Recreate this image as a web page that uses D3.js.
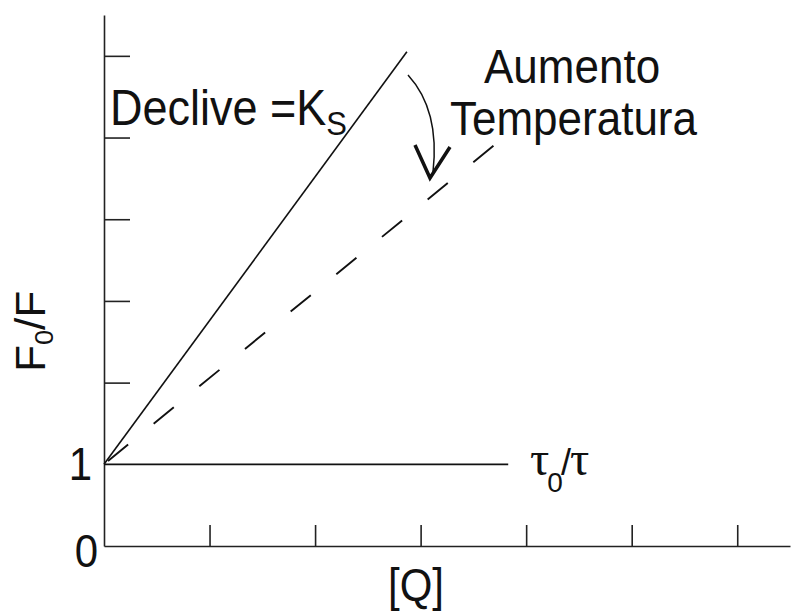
<!DOCTYPE html>
<html>
<head>
<meta charset="utf-8">
<script src="https://cdn.jsdelivr.net/npm/d3@7"></script>
<style>
    body { margin: 0; background: #fff; }
    svg text { font-family: "Liberation Sans", Arial, sans-serif; fill: #111; }
</style>
</head>
<body>
<div id="chart-area"></div>
<script>
//1. Data
var xTicks = [1, 2, 3, 4, 5, 6];
var yTicks = [2, 3, 4, 5, 6];
var yLabels = [0, 1];

// F0/F at low temperature (solid), higher temperature (dashed), and tau0/tau
var steepLine = [[0, 1], [2.87, 6.05]];
var dashedLine = [[3.69, 4.9], [0, 1]];   // drawn from the top so a dash ends there
var tauLine = [[0, 1], [3.83, 1]];

var svg_width = 791;
var svg_height = 614;

//2. SVG
var svg = d3.select("#chart-area").append("svg")
    .attr("width", svg_width)
    .attr("height", svg_height);

//3. Scales
var x_scaling = d3.scaleLinear().domain([0, 6.5]).range([104, 790]);
var y_scaling = d3.scaleLinear().domain([0, 6.5]).range([546, 15]);

//4. Axes (ticks point into the plot)
var y_axis_call = d3.axisRight(y_scaling)
    .tickValues(yTicks)
    .tickSize(26)
    .tickSizeOuter(0)
    .tickFormat("");
var x_axis_call = d3.axisTop(x_scaling)
    .tickValues(xTicks)
    .tickSize(21)
    .tickSizeOuter(0)
    .tickFormat("");

svg.append("g")
    .attr("transform", "translate(" + x_scaling(0) + ",0)")
    .call(y_axis_call);
svg.append("g")
    .attr("transform", "translate(0," + y_scaling(0) + ")")
    .call(x_axis_call);
svg.selectAll(".domain, .tick line")
    .attr("stroke", "#222")
    .attr("stroke-width", 1.6);

// 0 and 1 labels
svg.selectAll(".ylab").data(yLabels).enter().append("text")
    .attr("class", "ylab")
    .attr("text-anchor", "end")
    .attr("font-size", 42)
    .attr("transform", function (d) {
        return "translate(" + (d == 0 ? 98 : 92) + "," + (y_scaling(d) + (d == 0 ? 21 : 16)) + ") scale(1,1.1)";
    })
    .text(function (d) { return d; });

//5. Lines
var line = d3.line()
    .x(function (d) { return x_scaling(d[0]); })
    .y(function (d) { return y_scaling(d[1]); });

svg.append("path").datum(tauLine)
    .attr("d", line).attr("fill", "none")
    .attr("stroke", "#111").attr("stroke-width", 1.8);
svg.append("path").datum(steepLine)
    .attr("d", line).attr("fill", "none")
    .attr("stroke", "#111").attr("stroke-width", 1.6);
svg.append("path").datum(dashedLine)
    .attr("d", line).attr("fill", "none")
    .attr("stroke", "#111").attr("stroke-width", 1.9)
    .attr("stroke-dasharray", "26,33");

//6. Labels
function label(txt, x, y, size) {
    return svg.append("text")
        .attr("transform", "translate(" + x + "," + y + ") scale(1,1.1)")
        .attr("font-size", size)
        .text(txt);
}

label("Aumento", 484, 83, 44);
label("Temperatura", 450, 135, 44);

var decl = label("Declive =K", 110, 125, 45);
decl.append("tspan").attr("font-size", 31).attr("dy", 9).text("S");

label("[Q]", 388, 601, 42);

// F0/F rotated
var fl = svg.append("text")
    .attr("transform", "translate(45,372) rotate(-90) scale(1.05,1)")
    .attr("font-size", 42);
fl.append("tspan").text("F");
fl.append("tspan").attr("font-size", 26).attr("dy", 8).text("0");
fl.append("tspan").attr("dy", -8).text("/F");

// tau0/tau
var tl = svg.append("text")
    .attr("transform", "translate(530,475)")
    .attr("font-size", 48);
tl.append("tspan").attr("font-family", "Liberation Serif, serif").text("τ");
tl.append("tspan").attr("font-size", 28).attr("dy", 17).attr("dx", -2).text("0");
tl.append("tspan").attr("dy", -17).attr("font-size", 36).attr("dx", -2).text("/");
tl.append("tspan").attr("font-family", "Liberation Serif, serif").attr("dx", -1).text("τ");

//7. Curved arrow
svg.append("path")
    .attr("d", "M408,75 Q440,110 433,172")
    .attr("fill", "none")
    .attr("stroke", "#111")
    .attr("stroke-width", 1.5);
svg.append("path")
    .attr("d", "M415,145 L430,178 L450,147")
    .attr("fill", "none")
    .attr("stroke", "#111")
    .attr("stroke-width", 3.5)
    .attr("stroke-linejoin", "miter");
</script>
</body>
</html>
